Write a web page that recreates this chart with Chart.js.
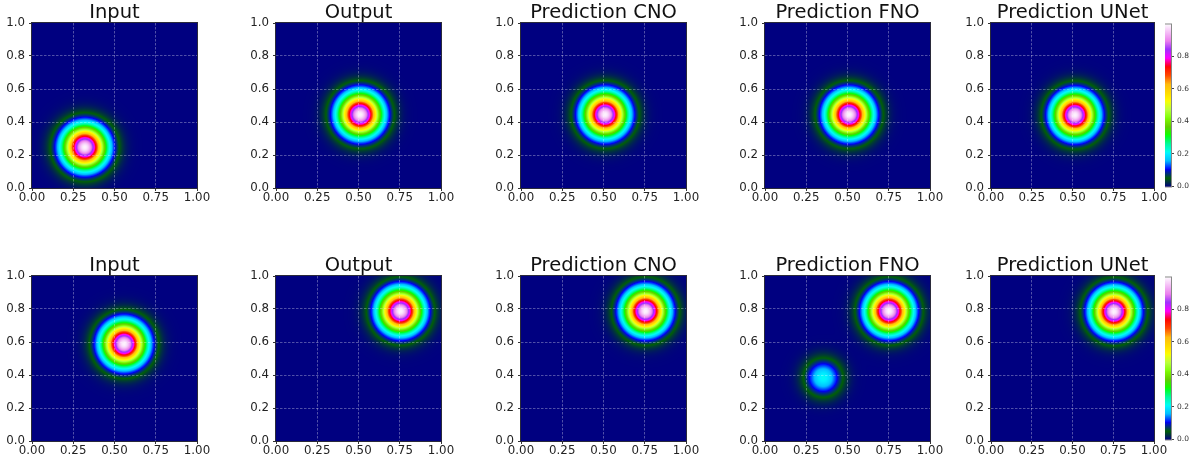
<!DOCTYPE html>
<html lang="en">
<head>
<meta charset="UTF-8">
<title>Input / Output / Predictions</title>
<script src="https://cdn.jsdelivr.net/npm/chart.js"></script>
<style>
  body { margin: 0; background: #fff; }
  #fig { position: relative; width: 1195px; height: 465px; overflow: hidden; }
  #fig canvas { position: absolute; }
</style>
</head>
<body>
<div id="fig"></div>
<script>
// column titles (same in both rows)
const titles = ['Input', 'Output', 'Prediction CNO', 'Prediction FNO', 'Prediction UNet'];

// bumps: [row][col] -> one entry per bump
const blobX = [
  [[0.32], [0.51], [0.51], [0.51], [0.515]],
  [[0.558], [0.755], [0.755], [0.752, 0.353], [0.755]]
];
const blobY = [
  [[0.247], [0.445], [0.445], [0.445], [0.442]],
  [[0.588], [0.787], [0.787], [0.787, 0.384], [0.784]]
];
const blobPeak = [
  [[0.99], [0.99], [0.99], [0.99], [0.99]],
  [[0.99], [0.99], [0.99], [0.99, 0.21], [0.99]]
];
const blobSigma = [
  [[0.086], [0.085], [0.085], [0.085], [0.085]],
  [[0.086], [0.085], [0.085], [0.085, 0.071], [0.085]]
];

const xTicks = [0, 0.25, 0.5, 0.75, 1];
const yTicks = [0, 0.2, 0.4, 0.6, 0.8, 1];
const cbarTicks = [0, 0.2, 0.4, 0.6, 0.8];
const cbarMax = 0.995;

// layout of the plot boxes (px)
const colLeft = [32, 276, 521, 765, 991];
const colW = [165, 165, 165, 165, 163];
const rowTop = [23, 276];
const plotH = 165;

Chart.defaults.font.family = "'DejaVu Sans', sans-serif";

// gist_ncar segment data
const ncarR = [[0,0],[0.3098,0],[0.3725,0.3993],[0.4235,0.5003],[0.5333,1],[0.7922,1],[0.8471,0.6218],[0.898,0.9235],[1,0.9961]];
const ncarG = [[0,0],[0.051,0.3722],[0.1059,0],[0.1569,0.7202],[0.1608,0.7537],[0.1647,0.7752],[0.2157,1],[0.2588,0.9804],
  [0.2706,0.9804],[0.3176,1],[0.3686,0.8081],[0.4275,1],[0.5216,1],[0.6314,0.7292],[0.6863,0.2796],[0.7451,0],
  [0.7922,0],[0.8431,0.1753],[0.898,0.5],[1,0.9725]];
const ncarB = [[0,0.502],[0.051,0.0222],[0.1098,1],[0.2039,1],[0.2627,0.6145],[0.3216,0],[0.4157,0],[0.4745,0.2342],
  [0.5333,0],[0.5804,0],[0.6314,0.0549],[0.6902,0],[0.7373,0],[0.7922,0.9738],[0.8,1],[0.8431,1],[0.898,0.9341],[1,0.9961]];

function seg(pts, t) {
  for (let i = 1; i < pts.length; i++) {
    if (t <= pts[i][0]) {
      const [x0, y0] = pts[i - 1], [x1, y1] = pts[i];
      return y0 + (y1 - y0) * (t - x0) / (x1 - x0);
    }
  }
  return pts[pts.length - 1][1];
}
function cmap(t) {
  t = Math.min(1, Math.max(0, t));
  return [seg(ncarR, t) * 255, seg(ncarG, t) * 255, seg(ncarB, t) * 255];
}

const fieldPlugin = {
  id: 'field',
  beforeDatasetsDraw(chart) {
    const { ctx, chartArea: a, scales: { x, y } } = chart;
    const blobs = chart.data.datasets[0].data;
    const left = Math.round(a.left), top = Math.round(a.top);
    const w = Math.round(a.right) - left, h = Math.round(a.bottom) - top;
    const img = ctx.createImageData(w, h);
    for (let j = 0; j < h; j++) {
      const yv = y.getValueForPixel(top + j + 0.5);
      for (let i = 0; i < w; i++) {
        const xv = x.getValueForPixel(left + i + 0.5);
        let v = 0;
        for (const b of blobs) {
          const dx = xv - b.x, dy = yv - b.y;
          v += b.peak * Math.exp(-(dx * dx + dy * dy) / (2 * b.sigma * b.sigma));
        }
        const c = cmap(v / cbarMax);
        const k = (j * w + i) * 4;
        img.data[k] = c[0]; img.data[k + 1] = c[1]; img.data[k + 2] = c[2]; img.data[k + 3] = 255;
      }
    }
    ctx.putImageData(img, left, top);
  },
  afterDraw(chart) {
    const { ctx, chartArea: a } = chart;
    ctx.save();
    ctx.strokeStyle = '#2a2a3a';
    ctx.lineWidth = 1;
    ctx.strokeRect(a.left - 0.5, a.top - 0.5, a.right - a.left + 1, a.bottom - a.top + 1);
    ctx.restore();
  }
};

const gridColor = c => (c.tick && (c.tick.value === 0 || c.tick.value === 1)) ? 'rgba(0,0,0,0)' : 'rgba(255,255,255,0.45)';

function panel(row, col) {
  const w = colW[col];
  const cv = document.createElement('canvas');
  cv.width = 32 + w + 18;
  cv.height = 21 + plotH + 20;
  cv.style.left = (colLeft[col] - 32) + 'px';
  cv.style.top = (rowTop[row] - 21) + 'px';
  document.getElementById('fig').appendChild(cv);

  const pts = blobX[row][col].map((bx, i) => ({
    x: bx, y: blobY[row][col][i], peak: blobPeak[row][col][i], sigma: blobSigma[row][col][i]
  }));

  new Chart(cv, {
    type: 'scatter',
    data: { datasets: [{ data: pts, pointRadius: 0, pointHoverRadius: 0 }] },
    options: {
      responsive: false,
      animation: false,
      events: [],
      layout: { padding: { left: 0, right: 18, top: 0, bottom: 0 } },
      plugins: {
        legend: { display: false },
        tooltip: { enabled: false },
        title: {
          display: true, text: titles[col], fullSize: false, color: '#111', padding: 0,
          font: { size: 19.5, weight: 'normal', lineHeight: '21px' }
        }
      },
      scales: {
        x: {
          type: 'linear', min: 0, max: 1,
          afterBuildTicks: s => { s.ticks = xTicks.map(v => ({ value: v })); },
          afterFit: s => { s.height = 20; },
          ticks: { callback: v => v.toFixed(2), color: '#222', font: { size: 11.8 }, padding: 0, maxRotation: 0, autoSkip: false },
          grid: { z: 1, color: gridColor, lineWidth: 0.7, tickLength: 3, tickColor: '#333', tickWidth: 1 },
          border: { display: false, dash: [2.5, 1.5] }
        },
        y: {
          type: 'linear', min: 0, max: 1,
          afterBuildTicks: s => { s.ticks = yTicks.map(v => ({ value: v })); },
          afterFit: s => { s.width = 32; },
          ticks: { callback: v => v.toFixed(1), color: '#222', font: { size: 11.8 }, padding: 4, autoSkip: false },
          grid: { z: 1, color: gridColor, lineWidth: 0.7, tickLength: 3, tickColor: '#333', tickWidth: 1 },
          border: { display: false, dash: [2.5, 1.5] }
        }
      }
    },
    plugins: [fieldPlugin]
  });
}

const cbarPlugin = {
  id: 'cbar',
  beforeDatasetsDraw(chart) {
    const { ctx, chartArea: a, scales: { y } } = chart;
    for (let py = Math.round(a.top); py < Math.round(a.bottom); py++) {
      const c = cmap(y.getValueForPixel(py + 0.5) / cbarMax);
      ctx.fillStyle = `rgb(${c[0] | 0},${c[1] | 0},${c[2] | 0})`;
      ctx.fillRect(a.left, py, a.right - a.left, 1);
    }
  },
  afterDraw(chart) {
    const { ctx, chartArea: a } = chart;
    ctx.save();
    ctx.strokeStyle = '#888';
    ctx.lineWidth = 1;
    ctx.strokeRect(a.left - 0.5, a.top - 0.5, a.right - a.left + 1, a.bottom - a.top + 1);
    ctx.restore();
  }
};

function colorbar(row) {
  const cv = document.createElement('canvas');
  cv.width = 6 + 25;
  cv.height = plotH + 12;
  cv.style.left = '1165px';
  cv.style.top = (rowTop[row] - 6) + 'px';
  document.getElementById('fig').appendChild(cv);
  new Chart(cv, {
    type: 'scatter',
    data: { datasets: [{ data: [], pointRadius: 0 }] },
    options: {
      responsive: false,
      animation: false,
      events: [],
      layout: { padding: { left: 0, right: 0, top: 6, bottom: 6 } },
      plugins: { legend: { display: false }, tooltip: { enabled: false } },
      scales: {
        x: { display: false, min: 0, max: 1 },
        y: {
          position: 'right', min: 0, max: cbarMax,
          afterBuildTicks: s => { s.ticks = cbarTicks.map(v => ({ value: v })); },
          afterFit: s => { s.width = 25; },
          ticks: { callback: v => v.toFixed(1), color: '#333', font: { size: 7.5 }, padding: 3 },
          grid: { drawOnChartArea: false, tickLength: 3, tickColor: '#444' },
          border: { display: false }
        }
      }
    },
    plugins: [cbarPlugin]
  });
}

for (let r = 0; r < 2; r++) {
  for (let c = 0; c < 5; c++) panel(r, c);
  colorbar(r);
}
</script>
</body>
</html>
